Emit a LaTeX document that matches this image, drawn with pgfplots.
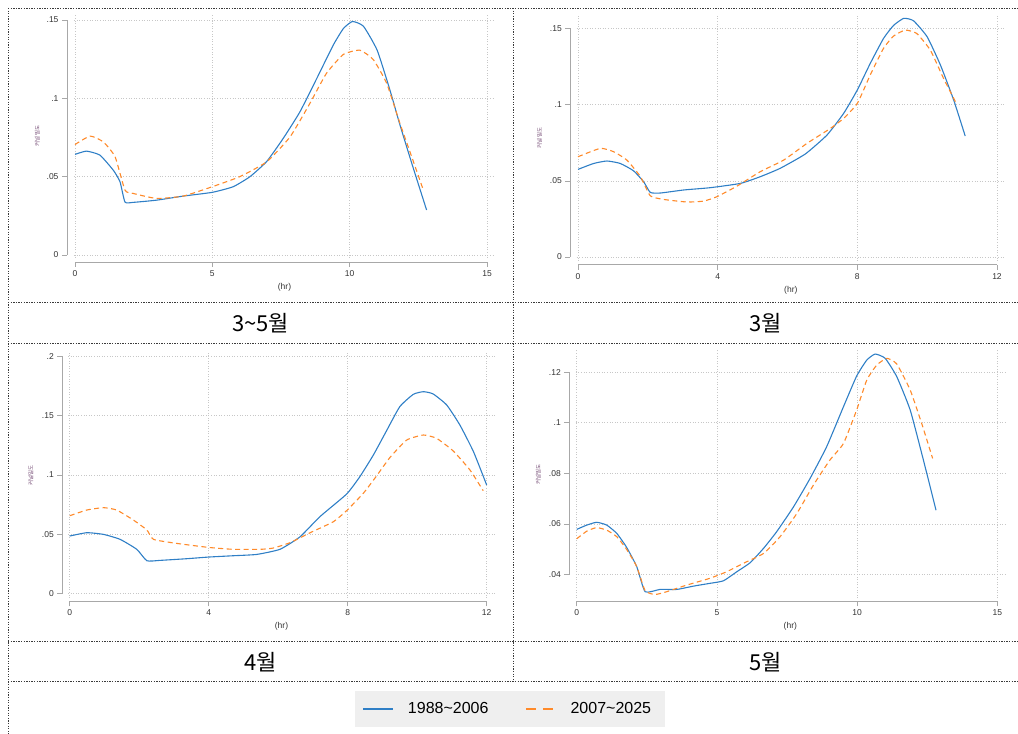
\documentclass[border=0pt]{standalone}
\usepackage{fontspec}
\setmainfont{Liberation Sans}
\newfontfamily\kfont{Noto Sans CJK KR}
\usepackage{pgfplots}
\pgfplotsset{compat=1.18}
\definecolor{sblue}{HTML}{2F7FC6}
\definecolor{sorange}{HTML}{FF8A2A}
\definecolor{axgray}{HTML}{A8A8A8}
\definecolor{framegray}{HTML}{3A3A3A}
\definecolor{leggray}{HTML}{EFEFEF}
\pgfplotsset{
  panel/.style={
    scale only axis, axis lines=left, axis line style={draw=none},
    tick align=outside, major tick length=5pt,
    tick style={draw=axgray, line width=0.6pt},
    grid=major, grid style={draw=black!22, line width=0.6pt, dash pattern=on 0.8pt off 1.8pt},
    ticklabel style={font=\fontsize{8.5}{10}\selectfont, text=black!80},
    /pgf/number format/assume math mode=true,
    xlabel={(hr)}, xlabel style={font=\fontsize{8.5}{10}\selectfont, text=black!80},
    ylabel={\kfont 커널밀도},
    ylabel style={font=\fontsize{5.5}{6}\selectfont, text=black!55!violet!70, at={(axis description cs:-0.087,0.5)}, anchor=center},
    scaled ticks=false, clip=false,
  },
  blueline/.style={sblue, line width=1.1pt, smooth, tension=0.3},
  orangeline/.style={sorange, line width=1.1pt, dash pattern=on 5pt off 3.5pt, smooth, tension=0.3},
}
\begin{document}
\begin{tikzpicture}
\useasboundingbox (0pt,0pt) rectangle (1018pt,734pt);
% frame
\begin{scope}[framegray, line width=0.9pt, dash pattern=on 1.3pt off 1.3pt]
\draw (8pt,726pt) -- (1018pt,726pt);
\draw (8pt,726pt) -- (8pt,0pt);
\draw (8pt,432pt) -- (1018pt,432pt);
\draw (8pt,391pt) -- (1018pt,391pt);
\draw (8pt,93pt) -- (1018pt,93pt);
\draw (8pt,53pt) -- (1018pt,53pt);
\draw (513pt,726pt) -- (513pt,53pt);
\end{scope}
% titles
\node[font=\kfont\fontsize{22}{26}\selectfont] at (260.5pt,411pt) {3\textasciitilde5월};
\node[font=\kfont\fontsize{22}{26}\selectfont] at (766pt,411pt) {3월};
\node[font=\kfont\fontsize{22}{26}\selectfont] at (260.5pt,72pt) {4월};
\node[font=\kfont\fontsize{22}{26}\selectfont] at (766pt,72pt) {5월};

% Panel 1: 3~5
\begin{axis}[panel, at={(74pt,476pt)}, anchor=south west, width=421pt, height=244pt,
  xmin=-0.036, xmax=15.29, ymin=-0.0019, ymax=0.1538,
  xtick={0,5,10,15}, ytick={0,0.05,0.1,0.15}, yticklabels={0,.05,.1,.15},
  axis x line shift=4pt, axis y line shift=7pt]
\draw[axgray, line width=0.6pt] ([yshift=-4pt]axis cs:0,-0.0019) -- ([yshift=-4pt]axis cs:15,-0.0019);
\draw[axgray, line width=0.6pt] ([xshift=-7pt]axis cs:-0.036,0) -- ([xshift=-7pt]axis cs:-0.036,0.15);
\addplot[blueline] coordinates {
(0,0.0642)(0.42,0.0663)(0.91,0.0637)(1.40,0.054)(1.64,0.0467)(1.82,0.0338)(2.12,0.0336)(2.97,0.035)(3.94,0.0376)(5.0,0.040)(5.76,0.0436)(6.37,0.050)(6.98,0.0597)(7.58,0.0744)(8.19,0.0914)(8.8,0.1126)(9.4,0.1339)(9.77,0.1445)(10.1,0.149)(10.5,0.146)(11.0,0.1307)(11.47,0.105)(11.83,0.083)(12.3,0.0563)(12.8,0.0287)};
\addplot[orangeline] coordinates {
(0,0.0705)(0.55,0.0759)(1.03,0.0722)(1.46,0.0627)(1.82,0.0414)(2.12,0.0393)(2.97,0.0361)(3.94,0.0376)(5.0,0.0436)(6.0,0.050)(6.98,0.0595)(7.83,0.0754)(8.55,0.0967)(9.15,0.1158)(9.77,0.128)(10.37,0.1307)(10.86,0.1247)(11.35,0.1094)(11.83,0.084)(12.3,0.0606)(12.66,0.0425)};
\end{axis}

% Panel 2: 3
\begin{axis}[panel, at={(576.7pt,473pt)}, anchor=south west, width=428.3pt, height=246pt,
  xmin=-0.037, xmax=12.23, ymin=-0.0026, ymax=0.1588,
  xtick={0,4,8,12}, ytick={0,0.05,0.1,0.15}, yticklabels={0,.05,.1,.15},
  axis x line shift=3.7pt, axis y line shift=6.4pt]
\draw[axgray, line width=0.6pt] ([yshift=-3.7pt]axis cs:0,-0.0026) -- ([yshift=-3.7pt]axis cs:12,-0.0026);
\draw[axgray, line width=0.6pt] ([xshift=-6.4pt]axis cs:-0.037,0) -- ([xshift=-6.4pt]axis cs:-0.037,0.15);
\addplot[blueline] coordinates {
(0,0.0575)(0.45,0.0614)(0.83,0.063)(1.21,0.0614)(1.59,0.0566)(1.88,0.0494)(2.07,0.0424)(2.36,0.042)(3.03,0.044)(3.79,0.0455)(4.65,0.0483)(5.22,0.0527)(5.79,0.0582)(6.51,0.0676)(7.13,0.080)(7.61,0.0943)(8.0,0.1096)(8.37,0.127)(8.75,0.1434)(9.04,0.152)(9.33,0.1566)(9.61,0.155)(10.0,0.1445)(10.38,0.126)(10.76,0.103)(11.09,0.0794)};
\addplot[orangeline] coordinates {
(0,0.0658)(0.64,0.0713)(1.02,0.0691)(1.40,0.0636)(1.79,0.0527)(2.07,0.0402)(2.45,0.0378)(3.12,0.0361)(3.6,0.0367)(3.98,0.0396)(4.56,0.0466)(5.22,0.056)(5.89,0.0636)(6.56,0.0746)(7.23,0.0844)(7.61,0.091)(8.0,0.1008)(8.37,0.1194)(8.75,0.1369)(9.04,0.145)(9.37,0.1489)(9.7,0.1467)(10.09,0.1358)(10.47,0.1172)(10.81,0.1019)};
\end{axis}

% Panel 3: 4
\begin{axis}[panel, at={(68pt,136pt)}, anchor=south west, width=427pt, height=245pt,
  xmin=-0.05, xmax=12.24, ymin=-0.0036, ymax=0.2028,
  xtick={0,4,8,12}, ytick={0,0.05,0.1,0.15,0.2}, yticklabels={0,.05,.1,.15,.2},
  axis x line shift=3.3pt, axis y line shift=5.7pt]
\draw[axgray, line width=0.6pt] ([yshift=-3.3pt]axis cs:0,-0.0036) -- ([yshift=-3.3pt]axis cs:12,-0.0036);
\draw[axgray, line width=0.6pt] ([xshift=-5.7pt]axis cs:-0.05,0) -- ([xshift=-5.7pt]axis cs:-0.05,0.2);
\addplot[blueline] coordinates {
(0,0.0486)(0.49,0.0514)(0.97,0.050)(1.45,0.0458)(1.93,0.0374)(2.22,0.0278)(2.6,0.0281)(3.37,0.0295)(4.0,0.0309)(4.71,0.032)(5.38,0.0331)(6.05,0.0374)(6.63,0.048)(7.2,0.0649)(7.97,0.084)(8.35,0.0986)(8.74,0.1169)(9.12,0.1374)(9.5,0.1576)(9.89,0.168)(10.18,0.1702)(10.46,0.1683)(10.85,0.159)(11.23,0.1421)(11.62,0.1197)(12.0,0.0916)};
\addplot[orangeline] coordinates {
(0,0.0657)(0.49,0.0705)(0.97,0.0725)(1.35,0.0705)(1.83,0.0621)(2.22,0.0537)(2.41,0.0458)(3.08,0.0424)(4.0,0.039)(4.71,0.0374)(5.48,0.0374)(5.86,0.0385)(6.34,0.043)(6.92,0.0514)(7.59,0.0607)(7.97,0.070)(8.45,0.0846)(8.83,0.0992)(9.22,0.1149)(9.7,0.1295)(10.18,0.1337)(10.56,0.1309)(11.04,0.1202)(11.52,0.1042)(11.9,0.0868)};
\end{axis}

% Panel 4: 5
\begin{axis}[panel, at={(575.7pt,135.7pt)}, anchor=south west, width=429.3pt, height=248.3pt,
  xmin=-0.036, xmax=15.27, ymin=0.0307, ymax=0.1287,
  xtick={0,5,10,15}, ytick={0.04,0.06,0.08,0.1,0.12}, yticklabels={.04,.06,.08,.1,.12},
  axis x line shift=3pt, axis y line shift=6.4pt]
\draw[axgray, line width=0.6pt] ([yshift=-3pt]axis cs:0,0.0307) -- ([yshift=-3pt]axis cs:15,0.0307);
\draw[axgray, line width=0.6pt] ([xshift=-6.4pt]axis cs:-0.036,0.04) -- ([xshift=-6.4pt]axis cs:-0.036,0.12);
\addplot[blueline] coordinates {
(0,0.0579)(0.36,0.0596)(0.71,0.0607)(1.07,0.0596)(1.43,0.0563)(1.78,0.0508)(2.14,0.0432)(2.44,0.0333)(2.97,0.0342)(3.57,0.0342)(4.16,0.0355)(4.75,0.0366)(5.23,0.0376)(5.71,0.0412)(6.18,0.0447)(6.66,0.0504)(7.13,0.057)(7.73,0.0668)(8.32,0.078)(8.91,0.0905)(9.51,0.1063)(9.98,0.1184)(10.34,0.1247)(10.64,0.1271)(11.0,0.1254)(11.41,0.1182)(11.89,0.105)(12.36,0.0853)(12.81,0.0655)};
\addplot[orangeline] coordinates {
(0,0.0542)(0.36,0.0572)(0.71,0.0586)(1.07,0.0576)(1.43,0.055)(1.78,0.050)(2.14,0.0432)(2.44,0.0337)(2.79,0.0322)(3.21,0.0333)(3.92,0.0359)(4.75,0.0386)(5.35,0.0412)(5.94,0.0445)(6.66,0.0484)(7.25,0.055)(7.85,0.0642)(8.44,0.0754)(9.03,0.0853)(9.51,0.0918)(9.98,0.105)(10.34,0.1168)(10.7,0.1228)(11.06,0.1254)(11.41,0.1232)(11.89,0.1129)(12.3,0.0997)(12.69,0.0859)};
\end{axis}

% Legend
\begin{axis}[at={(510pt,25pt)}, anchor=center, hide axis, scale only axis, width=10pt, height=10pt,
  xmin=0, xmax=1, ymin=0, ymax=1,
  legend columns=2,
  legend style={at={(0.5,0.5)}, anchor=center, fill=leggray, draw=none,
    font=\fontsize{16}{19}\selectfont, inner xsep=8pt, inner ysep=10pt,
    /tikz/every even column/.append style={column sep=31pt},
    nodes={inner xsep=6pt}},
  legend image code/.code={\draw[#1] (0pt,0pt) -- (30pt,0pt); \path (38pt,0pt);}]
\addlegendimage{sblue, line width=1.1pt}
\addlegendentry{1988\textasciitilde2006}
\addlegendimage{sorange, line width=1.1pt, dash pattern=on 10pt off 7pt}
\addlegendentry{2007\textasciitilde2025}
\end{axis}
\end{tikzpicture}
\end{document}
